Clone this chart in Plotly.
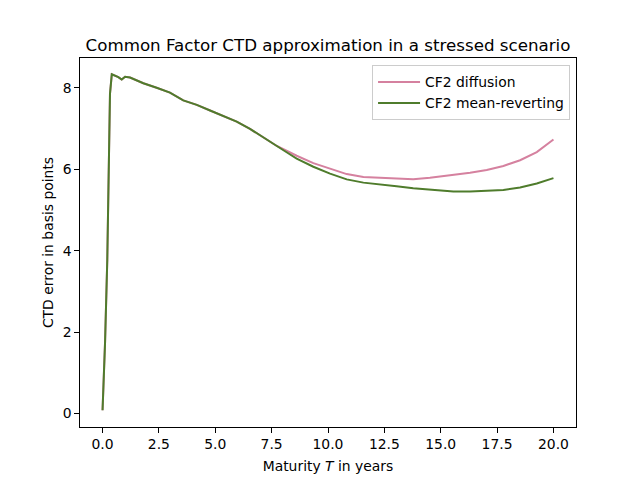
import plotly.graph_objects as go

maturity = [0.0, 0.11, 0.21, 0.27, 0.33, 0.41, 0.55, 0.70, 0.85, 1.0, 1.22, 1.41,
            1.81, 2.40, 2.99, 3.58, 4.18, 4.77, 5.36, 5.95, 6.54, 7.13, 7.73,
            8.32, 8.61, 9.35, 10.09, 10.83, 11.57, 12.30, 13.04, 13.78, 14.52,
            15.56, 16.30, 17.04, 17.78, 18.52, 19.26, 20.0]

cf2_diffusion = [0.08, 1.73, 3.77, 5.81, 7.85, 8.33, 8.30, 8.26, 8.20, 8.27, 8.25, 8.20,
                 8.11, 8.00, 7.88, 7.69, 7.58, 7.44, 7.30, 7.17, 6.99, 6.79, 6.57,
                 6.41, 6.33, 6.15, 6.02, 5.88, 5.81, 5.79, 5.78, 5.75, 5.79,
                 5.85, 5.91, 5.98, 6.08, 6.22, 6.42, 6.73]

cf2_mean_reverting = [0.08, 1.73, 3.77, 5.81, 7.85, 8.33, 8.30, 8.26, 8.20, 8.27, 8.25, 8.20,
                      8.11, 8.00, 7.88, 7.69, 7.58, 7.44, 7.30, 7.17, 6.99, 6.78, 6.55,
                      6.36, 6.26, 6.06, 5.89, 5.75, 5.67, 5.63, 5.58, 5.53, 5.49,
                      5.45, 5.45, 5.47, 5.49, 5.55, 5.65, 5.78]

x_ticks = [0.0, 2.5, 5.0, 7.5, 10.0, 12.5, 15.0, 17.5, 20.0]
y_ticks = [0, 2, 4, 6, 8]

PINK = "#d5819f"
GREEN = "#4f7c2c"
FONT = "DejaVu Sans"
FS = 13.9

fig = go.Figure()
fig.add_trace(go.Scatter(x=maturity, y=cf2_diffusion, mode="lines", name="CF2 diffusion",
                         line=dict(color=PINK, width=2)))
fig.add_trace(go.Scatter(x=maturity, y=cf2_mean_reverting, mode="lines", name="CF2 mean-reverting",
                         line=dict(color=GREEN, width=2)))

axis_common = dict(showgrid=False, zeroline=False, showline=True, linecolor="black",
                   linewidth=1, mirror=True, ticks="outside", ticklen=4.7, tickwidth=1,
                   tickcolor="black", tickfont=dict(family=FONT, size=FS, color="black"))

fig.update_layout(
    width=640, height=480,
    margin=dict(l=72, r=72, t=49.6, b=60.8),
    plot_bgcolor="white", paper_bgcolor="white",
    font=dict(family=FONT, color="black"),
    title=dict(text="Common Factor CTD approximation in a stressed scenario",
               x=0.5, xref="paper", xanchor="center", y=1, yref="paper", yanchor="bottom",
               pad=dict(b=7), font=dict(family=FONT, size=16.7, color="black")),
    xaxis=dict(range=[-1, 21], tickvals=x_ticks, ticktext=[f"{v:.1f}" for v in x_ticks],
               title=dict(text="Maturity <i>T</i> in years", standoff=9,
                          font=dict(family=FONT, size=FS)), **axis_common),
    yaxis=dict(range=[-0.33, 8.73], tickvals=y_ticks, ticktext=[str(v) for v in y_ticks],
               title=dict(text="CTD error in basis points", standoff=5,
                          font=dict(family=FONT, size=FS)), **axis_common),
    legend=dict(x=0.988, y=0.98, xanchor="right", yanchor="top",
                bgcolor="rgba(255,255,255,0.8)", bordercolor="#cccccc", borderwidth=1,
                itemwidth=42,
                font=dict(family=FONT, size=FS, color="black"), tracegroupgap=0),
    showlegend=True,
)

fig.write_html("out.html")
